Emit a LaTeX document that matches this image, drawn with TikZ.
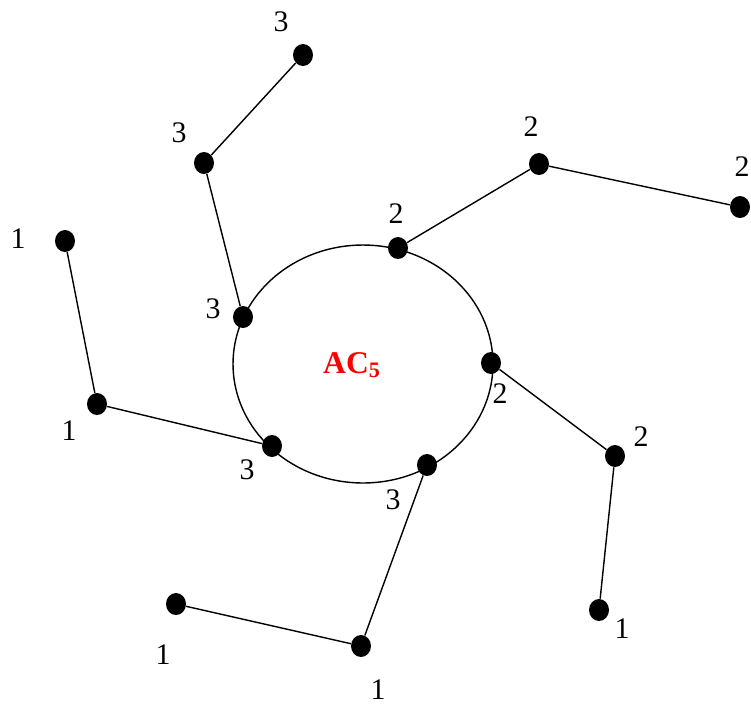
\documentclass[tikz,border=0pt]{standalone}
\usepackage{fontspec}
\setmainfont{Liberation Serif}
\usetikzlibrary{shapes.geometric}

\tikzset{
  vertex/.style={ellipse,fill=black,inner sep=0pt,minimum width=0.4cm,minimum height=0.44cm},
  num/.style={inner sep=0pt,font=\fontsize{17}{20}\selectfont},
  edge/.style={line width=0.8pt}
}

\begin{document}
\begin{tikzpicture}[x=0.02cm,y=-0.02cm]
\useasboundingbox (0,0) rectangle (751,704);
\clip (0,0) rectangle (751,704);
% the ring
\coordinate (ctr) at (363,364);
\draw[edge] (ctr) ellipse [x radius=2.6cm,y radius=2.38cm];
\node[text=red,font=\fontsize{18}{20}\selectfont\bfseries] (title) at (352,365) {AC\textsubscript{5}};
% vertices on the ring
\node[vertex] (rA) at (398,248) {};
\node[vertex] (rB) at (491,363) {};
\node[vertex] (rC) at (427,465) {};
\node[vertex] (rD) at (272,446) {};
\node[vertex] (rE) at (243,317) {};
% outer vertices
\node[vertex] (oA1) at (539,164) {};
\node[vertex] (oA2) at (740,207) {};
\node[vertex] (oB1) at (615,456) {};
\node[vertex] (oB2) at (599,610) {};
\node[vertex] (oC1) at (361,646) {};
\node[vertex] (oC2) at (176,604) {};
\node[vertex] (oD1) at (97,404) {};
\node[vertex] (oD2) at (65,241) {};
\node[vertex] (oE1) at (204,163) {};
\node[vertex] (oE2) at (303,55) {};
% arms
\draw[edge] (rA) -- (oA1) -- (oA2);
\draw[edge] (rB) -- (oB1) -- (oB2);
\draw[edge] (rC) -- (oC1) -- (oC2);
\draw[edge] (rD) -- (oD1) -- (oD2);
\draw[edge] (rE) -- (oE1) -- (oE2);
% numbers
\node[num] (nA) at (396,214) {2};
\node[num] (nB) at (500,394) {2};
\node[num] (nC) at (393,500) {3};
\node[num] (nD) at (247,470) {3};
\node[num] (nE) at (213,309) {3};
\node[num] (nA1) at (531,127) {2};
\node[num] (nA2) at (742,167) {2};
\node[num] (nB1) at (641,437) {2};
\node[num] (nB2) at (622,629) {1};
\node[num] (nC1) at (378,690) {1};
\node[num] (nC2) at (163,655) {1};
\node[num] (nD1) at (69,431) {1};
\node[num] (nD2) at (18,239) {1};
\node[num] (nE1) at (179,133) {3};
\node[num] (nE2) at (281,22) {3};
\end{tikzpicture}
\end{document}
